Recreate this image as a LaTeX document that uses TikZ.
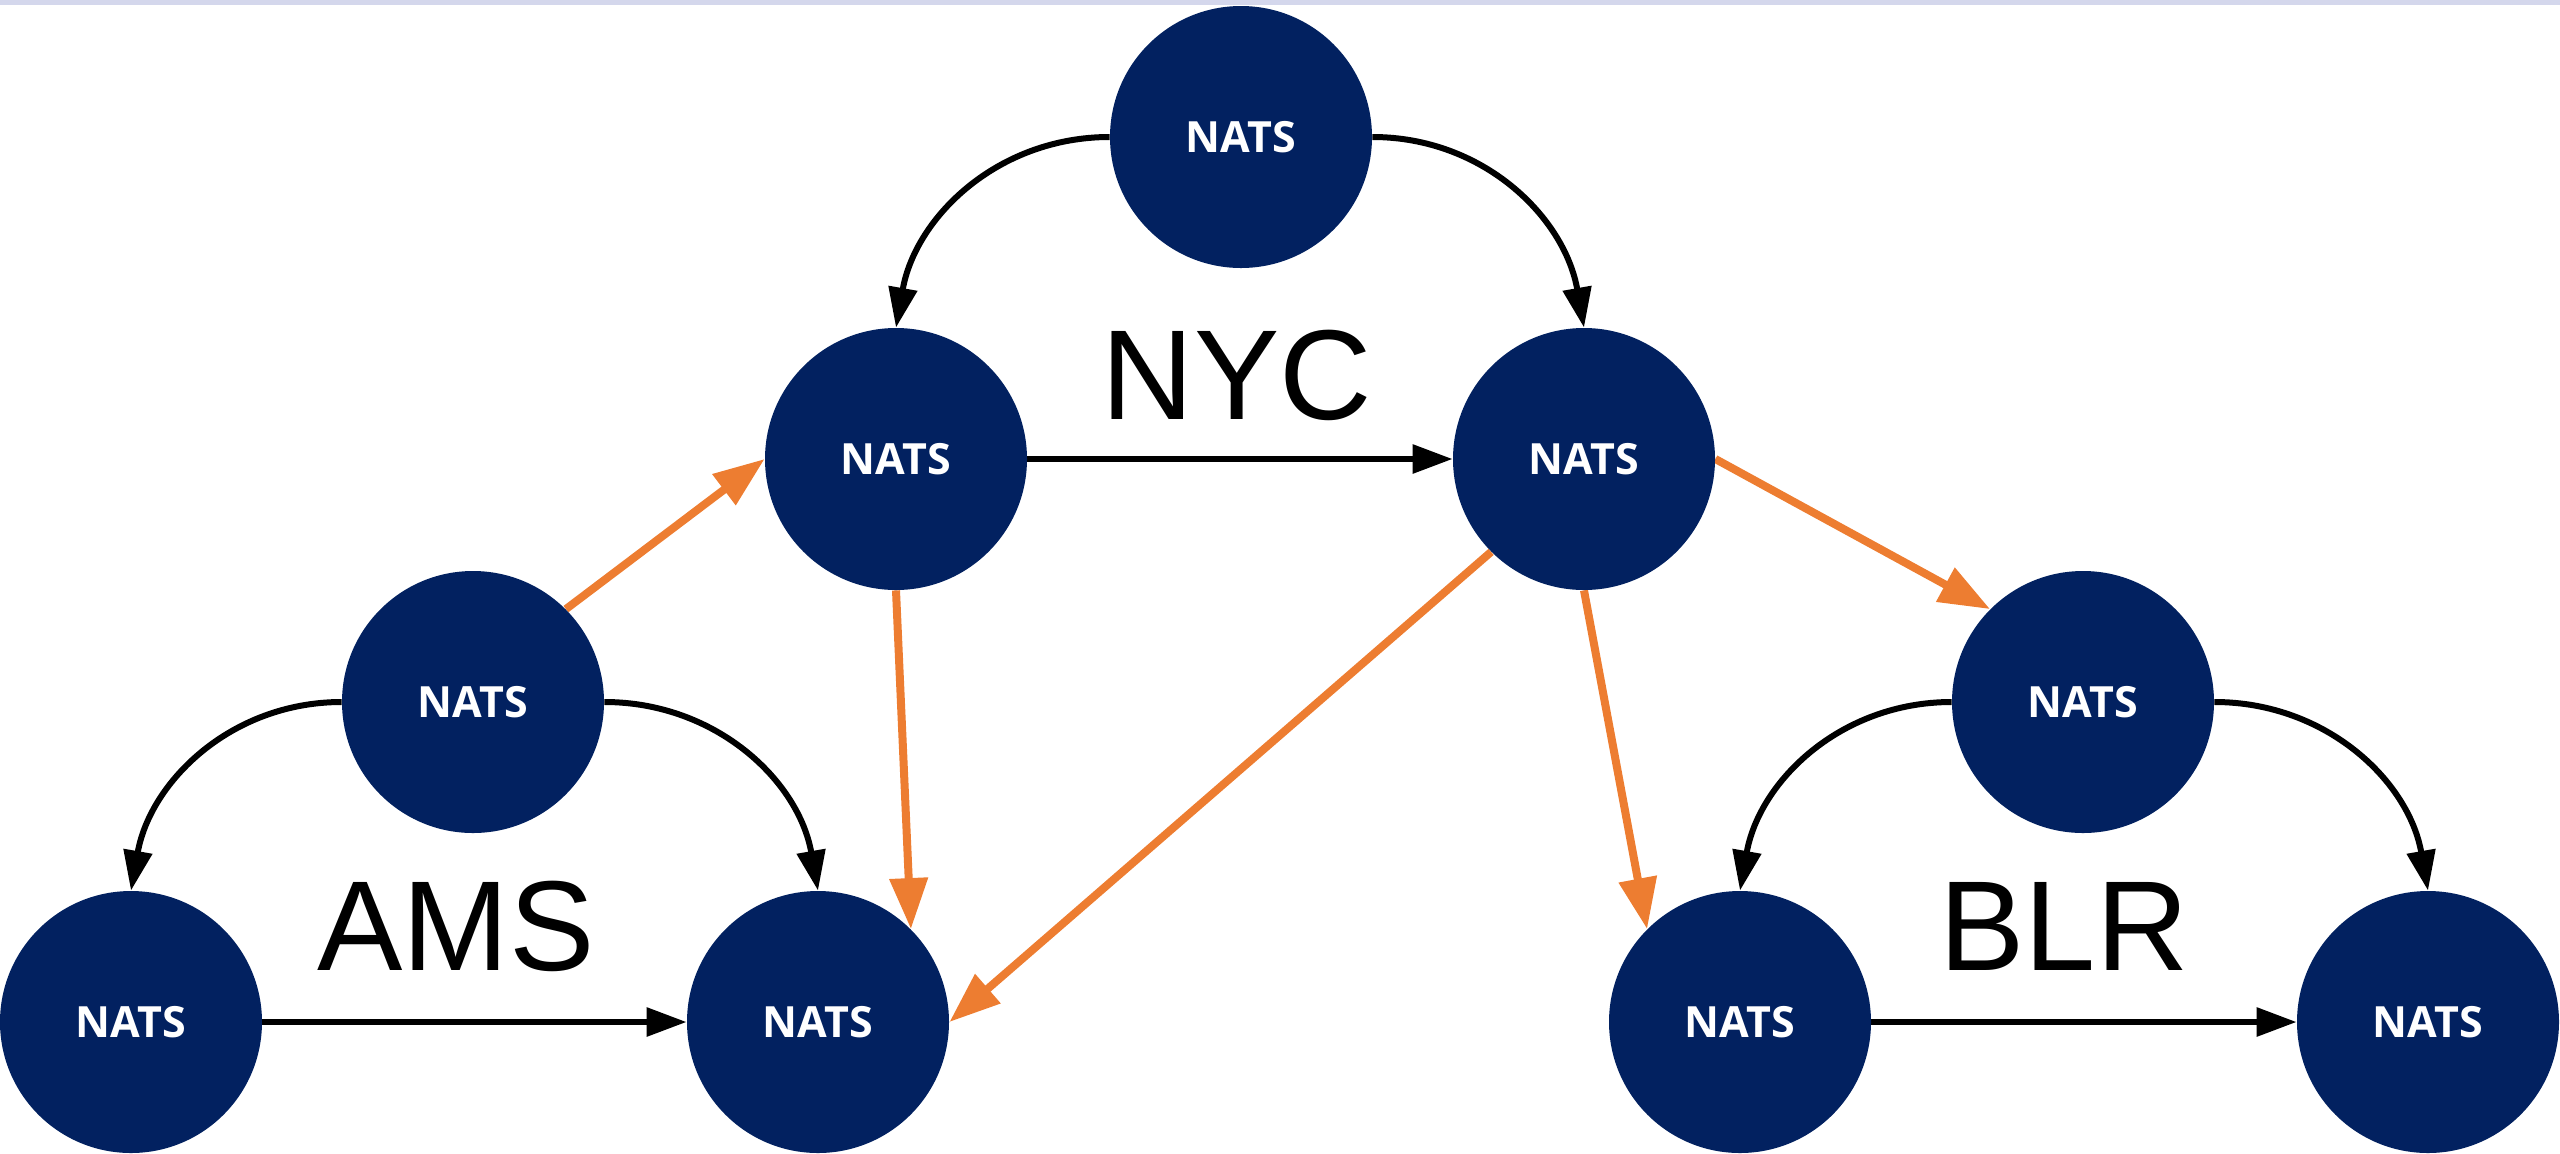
\documentclass[tikz,border=0pt]{standalone}
\usepackage{fontspec}
\setmainfont{Liberation Sans}
\newfontfamily\labelfont{Liberation Sans}
\newfontfamily\natsfont{Open Sans}[UprightFont={* Bold}]
\usetikzlibrary{arrows.meta,backgrounds}
\definecolor{navy}{RGB}{2,33,96}
\definecolor{natsorange}{RGB}{237,125,49}
\definecolor{topbar}{RGB}{212,215,236}
\tikzset{
  natsnode/.style={circle, fill=navy, draw=none, minimum size=131pt, inner sep=0pt,
    text=white, font=\natsfont\fontsize{21.5}{21.5}\selectfont},
  sitelabel/.style={inner sep=0pt, font=\labelfont\fontsize{64}{64}\selectfont},
  blackarrow/.style={draw=black, line width=3pt, -{Triangle[length=20pt,width=14pt]}},
  orangearrow/.style={draw=natsorange, line width=4pt, -{Triangle[length=25.5pt,width=18.5pt]}}
}
\begin{document}
\begin{tikzpicture}[x=0.5pt,y=-0.5pt]
\useasboundingbox (0,0) rectangle (2560,1153);
\fill[topbar] (0,0) rectangle (2560,4.5);
% NYC
\node[natsnode] (nycT) at (1241,137) {NATS};
\node[natsnode] (nycL) at (896,459) {NATS};
\node[natsnode] (nycR) at (1584,459) {NATS};
% AMS
\node[natsnode] (amsT) at (473,702) {NATS};
\node[natsnode] (amsL) at (131,1022) {NATS};
\node[natsnode] (amsR) at (818,1022) {NATS};
% BLR
\node[natsnode] (blrT) at (2083,702) {NATS};
\node[natsnode] (blrL) at (1740,1022) {NATS};
\node[natsnode] (blrR) at (2428,1022) {NATS};
% labels
\node[sitelabel] (nyclbl) at (1237,375) {NYC};
\node[sitelabel] (amslbl) at (456,926) {AMS};
\node[sitelabel] (blrlbl) at (2064,926) {BLR};
\begin{pgfonlayer}{background}
% black intra-site arrows
\draw[blackarrow] (nycT.west) to[out=180,in=80] (nycL.north);
\draw[blackarrow] (nycT.east) to[out=0,in=100] (nycR.north);
\draw[blackarrow] (nycL.east) -- (nycR.west);
\draw[blackarrow] (amsT.west) to[out=180,in=80] (amsL.north);
\draw[blackarrow] (amsT.east) to[out=0,in=100] (amsR.north);
\draw[blackarrow] (amsL.east) -- (amsR.west);
\draw[blackarrow] (blrT.west) to[out=180,in=80] (blrL.north);
\draw[blackarrow] (blrT.east) to[out=0,in=100] (blrR.north);
\draw[blackarrow] (blrL.east) -- (blrR.west);
% orange inter-site arrows
\draw[orangearrow] (amsT.north east) -- (nycL.west);
\draw[orangearrow] (nycL.south) -- (amsR.north east);
\draw[orangearrow] (nycR.south west) -- (amsR.east);
\draw[orangearrow] (nycR.south) -- (blrL.north west);
\draw[orangearrow] (nycR.east) -- (blrT.north west);
\end{pgfonlayer}
\end{tikzpicture}
\end{document}
